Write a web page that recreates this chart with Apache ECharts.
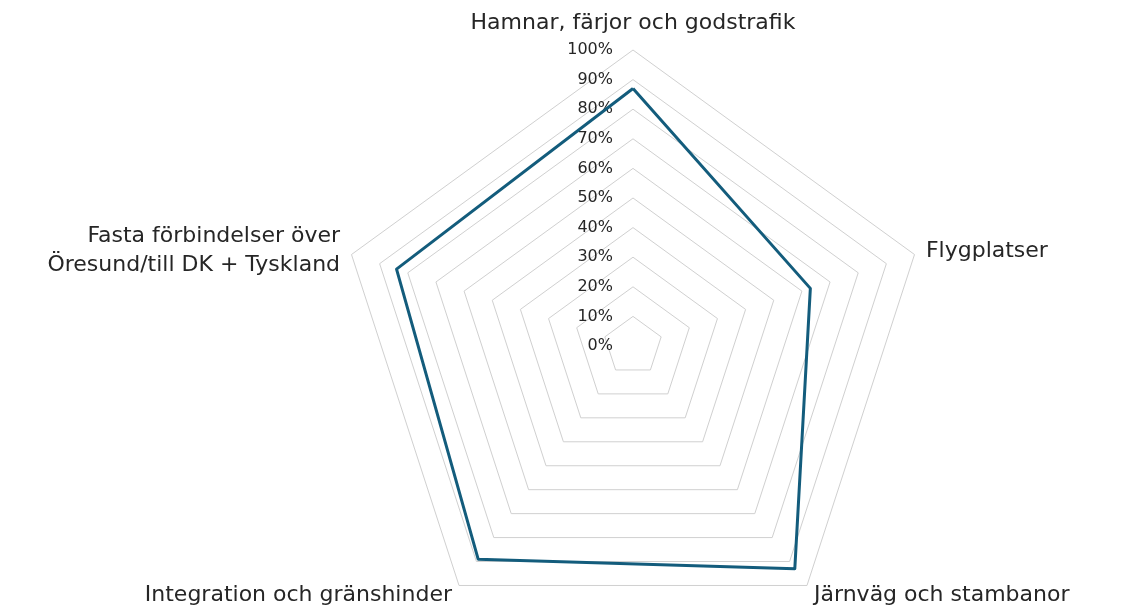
<!DOCTYPE html>
<html>
<head>
<meta charset="utf-8">
<script src="https://cdn.jsdelivr.net/npm/echarts@6/dist/echarts.min.js"></script>
<style>
  html, body { margin: 0; padding: 0; background: #fff; }
  #chart { width: 1126px; height: 610px; }
</style>
</head>
<body>
<div id="chart"></div>
<script>
// Radar categories (clockwise from top) and values in %
var categories = [
    'Hamnar, färjor och godstrafik',
    'Flygplatser',
    'Järnväg och stambanor',
    'Integration och gränshinder',
    'Fasta förbindelser över\nÖresund/till DK + Tyskland'
];
var values = [87, 63, 93, 89, 84];
var axisMax = 100;
var axisSteps = 10;

var chart = echarts.init(document.getElementById('chart'));

// echarts lays radar axes out counter-clockwise, so keep the first
// and reverse the rest to get the clockwise order of the picture
var order = [0].concat(categories.map(function (c, i) { return i; }).slice(1).reverse());

var indicators = order.map(function (idx, i) {
    var ind = { name: categories[idx], min: 0, max: axisMax };
    // only the top axis carries the % labels
    if (i === 0) {
        ind.axisLabel = {
            show: true,
            formatter: '{value}%',
            color: '#262626',
            fontSize: 16,
            fontFamily: 'DejaVu Sans',
            margin: 20
        };
    }
    return ind;
});
var radarValues = order.map(function (idx) { return values[idx]; });

var option = {
    backgroundColor: '#ffffff',
    animation: false,
    radar: {
        center: [633, 346],
        radius: 296,
        startAngle: 90,
        shape: 'polygon',
        splitNumber: axisSteps,
        indicator: indicators,
        nameGap: 12,
        axisName: {
            color: '#262626',
            fontSize: 22,
            fontFamily: 'DejaVu Sans',
            lineHeight: 29
        },
        axisLine: { show: false },
        axisTick: { show: false },
        axisLabel: { show: false },
        splitLine: {
            lineStyle: { color: '#d0d0d0', width: 1 }
        },
        splitArea: { show: false }
    },
    series: [
        {
            type: 'radar',
            symbol: 'none',
            lineStyle: { color: '#135c7c', width: 3 },
            data: [{ value: radarValues }]
        }
    ]
};

chart.setOption(option);
</script>
</body>
</html>
